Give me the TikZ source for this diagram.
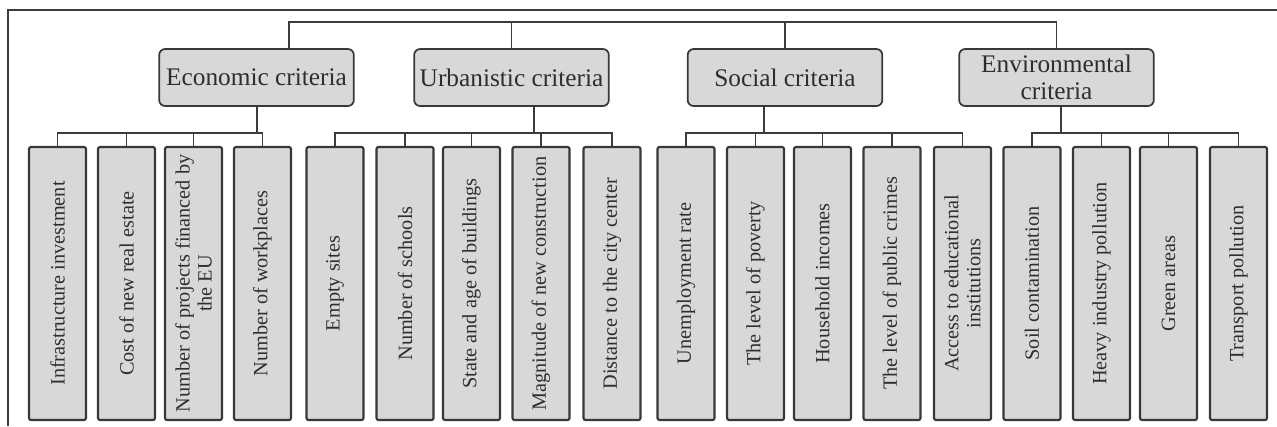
\documentclass[tikz,border=0pt]{standalone}
\usepackage{fontspec}
\setmainfont{Liberation Serif}
\usetikzlibrary{positioning}
\definecolor{boxgray}{HTML}{D8D8D8}
\definecolor{edgegray}{HTML}{383838}
\definecolor{linegray}{HTML}{3C3C3C}
\definecolor{textgray}{HTML}{2E2E2E}
\tikzset{
headbox/.style={
  draw=edgegray,
  line width=1.3pt,
  fill=boxgray,
  text=textgray,
  rounded corners=4.5pt,
  minimum width=146pt,
  minimum height=42.75pt,
  inner sep=0pt,
  align=center,
  font=\fontsize{19}{20.5}\selectfont
  },
leafbox/.style={
  draw=edgegray,
  line width=1.6pt,
  fill=boxgray,
  text=textgray,
  rounded corners=1.5pt,
  rotate=90,
  minimum width=204.75pt,
  minimum height=42.75pt,
  inner sep=0pt,
  align=center,
  font=\fontsize{15.2}{16.5}\selectfont
  },
link/.style={
  draw=linegray,
  line width=1.4pt
  },
frameline/.style={
  draw=linegray,
  line width=1pt
  }
}
\begin{document}
\begin{tikzpicture}[x=0.75pt,y=-0.75pt]

\useasboundingbox (0,0) rectangle (1277,426);

\draw[frameline] (1277,10) -- (8,10) -- (8,426);

\node[headbox] (hE) at (256.5,77.5) {Economic criteria};

\node[headbox] (hU) at (511.5,77.5) {Urbanistic criteria};

\node[headbox] (hS) at (785,77.5) {Social criteria};

\node[headbox] (hV) at (1056.5,77.5) {Environmental\\criteria};

\node[leafbox] (l1) at (57.5,283.5) {Infrastructure investment};
\node[leafbox] (l2) at (126.5,283.5) {Cost of new real estate};
\node[leafbox] (l3) at (193.5,283.5) {Number of projects financed by\\the EU};
\node[leafbox] (l4) at (262.5,283.5) {Number of workplaces};

\node[leafbox] (l5) at (335,283.5) {Empty sites};
\node[leafbox] (l6) at (405,283.5) {Number of schools};
\node[leafbox] (l7) at (471.5,283.5) {State and age of buildings};
\node[leafbox] (l8) at (541,283.5) {Magnitude of new construction};
\node[leafbox] (l9) at (612,283.5) {Distance to the city center};

\node[leafbox] (l10) at (686,283.5) {Unemployment rate};
\node[leafbox] (l11) at (755.5,283.5) {The level of poverty};
\node[leafbox] (l12) at (822.5,283.5) {Household incomes};
\node[leafbox] (l13) at (892,283.5) {The level of public crimes};
\node[leafbox] (l14) at (962.5,283.5) {Access to educational\\institutions};

\node[leafbox] (l15) at (1032,283.5) {Soil contamination};
\node[leafbox] (l16) at (1101.5,283.5) {Heavy industry pollution};
\node[leafbox] (l17) at (1168.5,283.5) {Green areas};
\node[leafbox] (l18) at (1238.5,283.5) {Transport pollution};

% top bus
\coordinate (tE) at (289,22);
\coordinate (tV) at (1056.5,22);
\draw[link] (hE.north -| tE) -- (tE) -- (tV) -- (hV.north);
\draw[link] (hU.north) -- (hU.north |- tE);
\draw[link] (hS.north) -- (hS.north |- tE);

% lower buses
\coordinate (bE) at (257,133);
\coordinate (bU) at (534,133);
\coordinate (bS) at (764,133);
\coordinate (bV) at (1061,133);

\draw[link] (hE.south -| bE) -- (bE);
\draw[link] (l1.east) |- (bE) -| (l4.east);
\draw[link] (l2.east) -- (l2.east |- bE);
\draw[link] (l3.east) -- (l3.east |- bE);

\draw[link] (hU.south -| bU) -- (bU);
\draw[link] (l5.east) |- (bU) -| (l9.east);
\draw[link] (l6.east) -- (l6.east |- bU);
\draw[link] (l7.east) -- (l7.east |- bU);
\draw[link] (l8.east) -- (l8.east |- bU);

\draw[link] (hS.south -| bS) -- (bS);
\draw[link] (l10.east) |- (bS) -| (l14.east);
\draw[link] (l11.east) -- (l11.east |- bS);
\draw[link] (l12.east) -- (l12.east |- bS);
\draw[link] (l13.east) -- (l13.east |- bS);

\draw[link] (hV.south -| bV) -- (bV);
\draw[link] (l15.east) |- (bV) -| (l18.east);
\draw[link] (l16.east) -- (l16.east |- bV);
\draw[link] (l17.east) -- (l17.east |- bV);

\end{tikzpicture}
\end{document}
